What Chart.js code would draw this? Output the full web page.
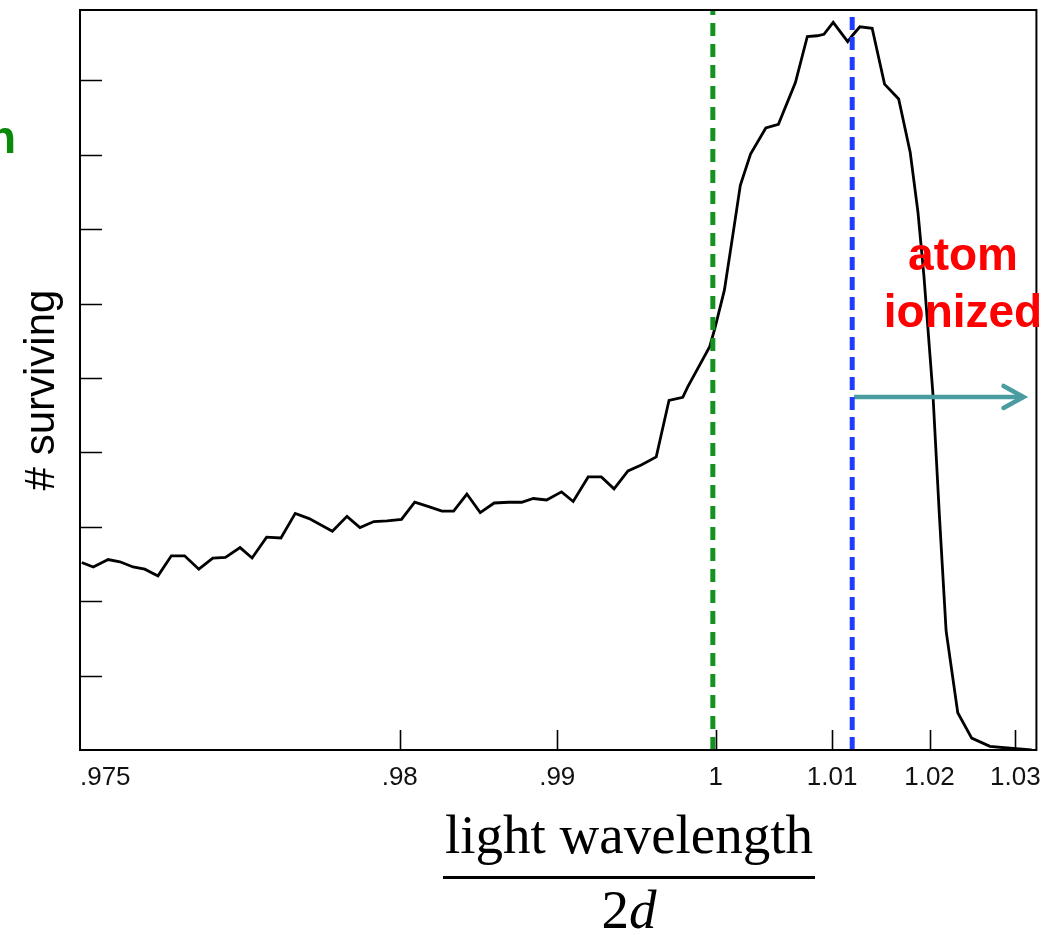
<!DOCTYPE html>
<html>
<head>
<meta charset="utf-8">
<script src="https://cdn.jsdelivr.net/npm/chart.js@4.4.1/dist/chart.umd.min.js"></script>
<style>
  html, body { margin: 0; padding: 0; background: #fff; }
  #chart { display: block; }
</style>
</head>
<body>
<canvas id="chart" width="1053" height="935"></canvas>
<script>
// scan position along the x axis (the original axis is not linear, so
// positions are kept in plot units and labelled with the printed ticks)
const xPos = [
  0.18, 1.39, 2.95, 4.18, 5.56, 6.78, 8.17, 9.57, 10.96, 12.45,
  13.91, 15.24, 16.77, 18.03, 19.55, 21.05, 22.55, 24.01, 26.44, 27.97,
  29.33, 30.79, 32.18, 33.68, 35.07, 36.53, 37.92, 39.14, 40.53, 41.93,
  43.39, 44.89, 46.27, 47.49, 48.88, 50.45, 51.67, 53.24, 54.62, 55.95,
  57.41, 58.80, 60.37, 61.71, 63.15, 63.67, 65.97, 66.52, 67.51, 68.37,
  69.18, 70.25, 71.85, 73.17, 74.95, 76.20, 77.24, 77.94, 78.91, 80.43,
  80.90, 81.70, 82.99, 84.29, 85.77, 86.98, 87.79, 88.41, 89.35, 90.05,
  90.74, 91.96, 93.42, 95.33, 97.78, 99.69
];
const surviving = [
  2.52, 2.46, 2.56, 2.53, 2.46, 2.43, 2.34, 2.61, 2.61, 2.43,
  2.58, 2.59, 2.72, 2.58, 2.86, 2.85, 3.18, 3.11, 2.94, 3.14,
  2.99, 3.07, 3.08, 3.10, 3.33, 3.27, 3.21, 3.21, 3.44, 3.19,
  3.32, 3.33, 3.33, 3.38, 3.36, 3.47, 3.34, 3.67, 3.67, 3.51,
  3.75, 3.83, 3.94, 4.70, 4.74, 4.88, 5.42, 5.67, 6.18, 6.90,
  7.59, 8.01, 8.36, 8.41, 8.97, 9.59, 9.60, 9.62, 9.78, 9.52,
  9.60, 9.72, 9.70, 8.95, 8.75, 8.03, 7.23, 6.38, 4.80, 3.12,
  1.60, 0.50, 0.16, 0.05, 0.02, 0.00
];

const tickPos = [0, 33.5, 50.0, 66.6, 78.8, 89.0, 98.0];
const tickLabels = ['       .975', '.98', '.99', '1', '1.01', '1.02', '1.03'];
const yTicks = [1, 2, 3, 4, 5, 6, 7, 8, 9];

const resonanceX = 66.3;
const ionizeX = 80.9;
const arrowEndX = 98.85;
const arrowY = 4.745;

const decor = {
  id: 'decor',
  afterDraw(chart) {
    const ctx = chart.ctx;
    const a = chart.chartArea;
    const xs = chart.scales.x, ys = chart.scales.y;
    ctx.save();

    // frame
    ctx.strokeStyle = '#000';
    ctx.lineWidth = 2;
    ctx.strokeRect(a.left, a.top, a.right - a.left, a.bottom - a.top);

    // inward tick marks
    ctx.lineWidth = 1.6;
    ctx.beginPath();
    yTicks.forEach(v => {
      const y = Math.round(ys.getPixelForValue(v)) + 0.5;
      ctx.moveTo(a.left, y);
      ctx.lineTo(a.left + 22, y);
    });
    tickPos.slice(1).forEach(v => {
      const x = Math.round(xs.getPixelForValue(v)) + 0.5;
      ctx.moveTo(x, a.bottom);
      ctx.lineTo(x, a.bottom - 20);
    });
    ctx.stroke();

    // arrow head
    const ax = xs.getPixelForValue(arrowEndX), ay = ys.getPixelForValue(arrowY);
    ctx.strokeStyle = '#4a9ca0';
    ctx.lineWidth = 4.5;
    ctx.lineCap = 'round';
    ctx.beginPath();
    ctx.moveTo(ax - 20, ay - 11);
    ctx.lineTo(ax, ay);
    ctx.lineTo(ax - 20, ay + 11);
    ctx.stroke();

    // y title
    ctx.fillStyle = '#000';
    ctx.font = '42px "Liberation Sans", Arial, sans-serif';
    ctx.textAlign = 'center';
    ctx.textBaseline = 'middle';
    ctx.translate(42, 390);
    ctx.rotate(-Math.PI / 2);
    ctx.fillText('# surviving', 0, 0);
    ctx.setTransform(1, 0, 0, 1, 0, 0);

    // annotations
    ctx.textBaseline = 'alphabetic';
    ctx.font = 'bold 46px "Liberation Sans", Arial, sans-serif';
    ctx.fillStyle = '#ff0000';
    ctx.fillText('atom', 963, 270);
    ctx.fillText('ionized', 963, 327);
    ctx.fillStyle = '#0a8a0a';
    ctx.textAlign = 'right';
    ctx.fillText('n', 16, 153);

    // x title as a fraction
    ctx.fillStyle = '#000';
    ctx.textAlign = 'center';
    ctx.font = '55px "Liberation Serif", "Times New Roman", serif';
    ctx.fillText('light wavelength', 629, 853);
    ctx.fillRect(443, 876, 372, 3);
    const twoW = ctx.measureText('2').width;
    ctx.font = 'italic 55px "Liberation Serif", "Times New Roman", serif';
    const dW = ctx.measureText('d').width;
    const startX = 629 - (twoW + dW) / 2;
    ctx.textAlign = 'left';
    ctx.fillText('d', startX + twoW, 928);
    ctx.font = '55px "Liberation Serif", "Times New Roman", serif';
    ctx.fillText('2', startX, 928);

    ctx.restore();
  }
};

const data = {
  datasets: [
    {
      label: 'resonance',
      data: [{ x: resonanceX, y: 0 }, { x: resonanceX, y: 9.95 }],
      borderColor: '#14921e',
      borderWidth: 5,
      borderDash: [13, 8],
      pointRadius: 0,
      showLine: true,
      order: 0,
    },
    {
      label: 'ionization',
      data: [{ x: ionizeX, y: 0 }, { x: ionizeX, y: 9.88 }],
      borderColor: '#1f3dff',
      borderWidth: 5,
      borderDash: [13, 7],
      pointRadius: 0,
      showLine: true,
      order: 1,
    },
    {
      label: 'arrow',
      data: [{ x: ionizeX + 0.2, y: arrowY }, { x: arrowEndX, y: arrowY }],
      borderColor: '#4a9ca0',
      borderWidth: 4.5,
      pointRadius: 0,
      showLine: true,
      order: 2,
    },
    {
      label: '# surviving',
      data: xPos.map((x, i) => ({ x: x, y: surviving[i] })),
      borderColor: '#000',
      borderWidth: 2.8,
      pointRadius: 0,
      showLine: true,
      tension: 0,
      order: 3,
    },
  ]
};

const config = {
  type: 'scatter',
  data: data,
  options: {
    responsive: false,
    animation: false,
    devicePixelRatio: 1,
    layout: {
      padding: { left: 80, top: 10, right: 13, bottom: 0 },
    },
    plugins: {
      legend: { display: false },
      tooltip: { enabled: false },
    },
    scales: {
      x: {
        type: 'linear',
        min: 0,
        max: 100.2,
        grid: { display: false, drawTicks: false },
        border: { display: false },
        afterBuildTicks: (scale) => {
          scale.ticks = tickPos.map(v => ({ value: v }));
        },
        afterFit: (scale) => { scale.height = 185; },
        ticks: {
          autoSkip: false,
          maxRotation: 0,
          padding: 12,
          color: '#111',
          font: { family: '"Liberation Sans Narrow", "Liberation Sans", sans-serif', size: 26 },
          callback: (value, index) => tickLabels[index],
        },
      },
      y: {
        min: 0,
        max: 9.946,
        grid: { display: false, drawTicks: false },
        border: { display: false },
        ticks: { display: false },
        afterFit: (scale) => { scale.width = 0; },
      },
    },
  },
  plugins: [decor],
};

const survivalChart = new Chart(document.getElementById('chart'), config);
</script>
</body>
</html>
